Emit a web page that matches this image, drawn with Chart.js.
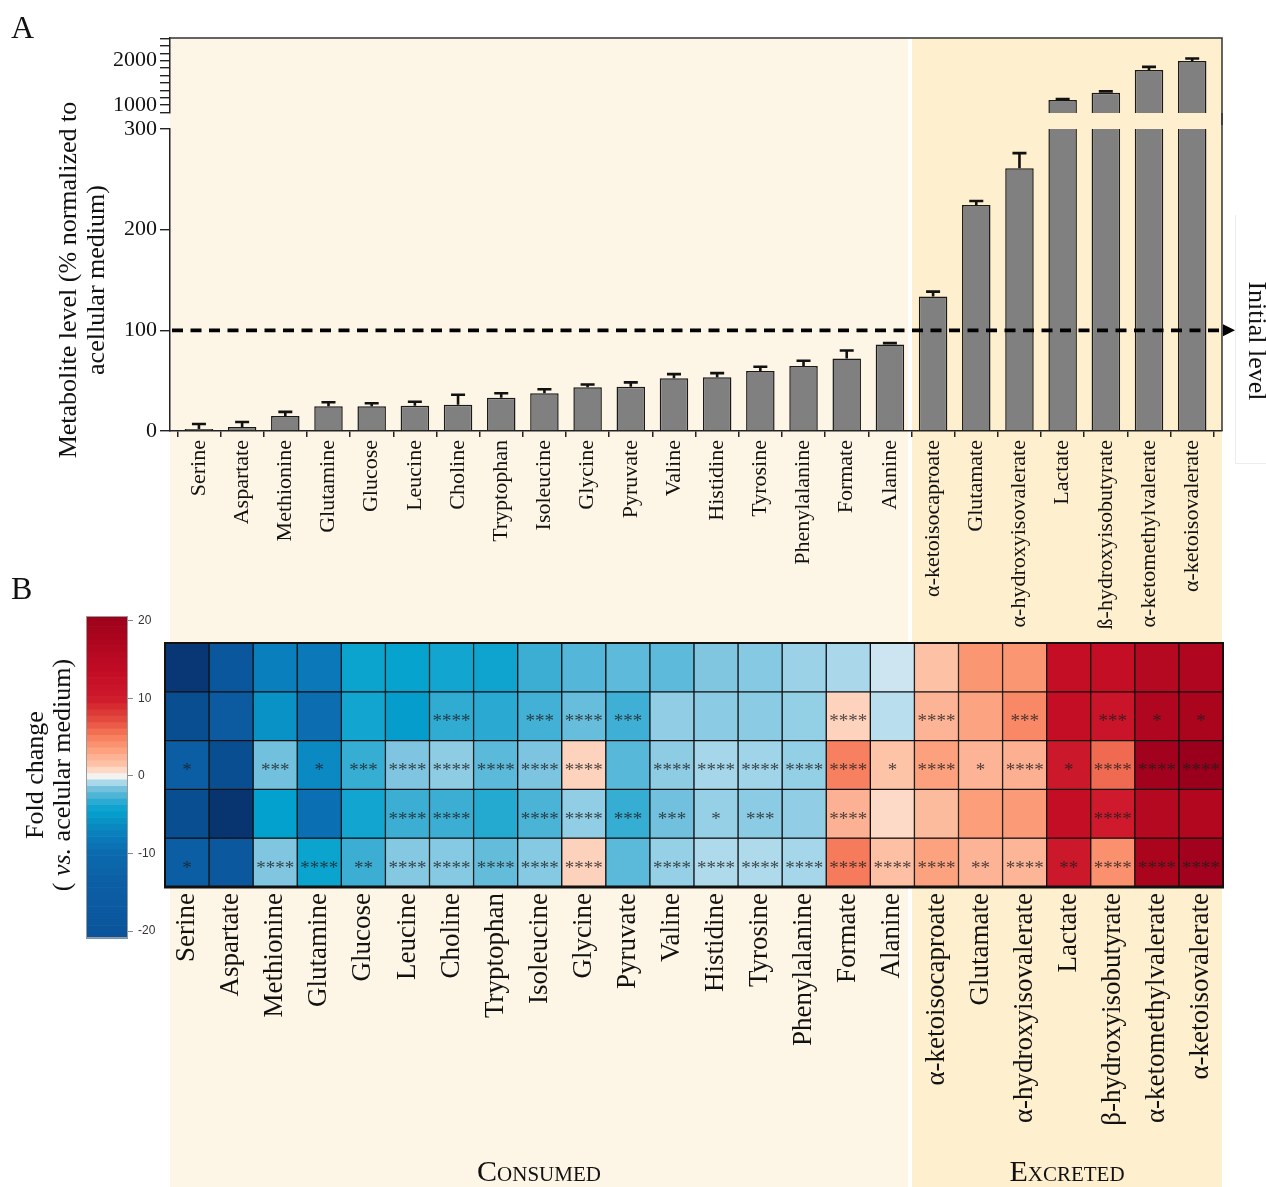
<!DOCTYPE html>
<html>
<head>
<meta charset="utf-8">
<title>Metabolite consumption and excretion</title>
<script src="https://cdn.jsdelivr.net/npm/chart.js@4.4.1/dist/chart.umd.min.js"></script>
<style>
  html, body { margin: 0; padding: 0; background: #fff; }
  #page { position: relative; width: 1266px; height: 1187px; overflow: hidden;
          font-family: 'Liberation Serif', 'Times New Roman', serif; color: #111; }
  .bg { position: absolute; }
  canvas { position: absolute; }
  .lbl { position: absolute; white-space: nowrap; }
</style>
</head>
<body>
<div id="page">
  <!-- consumed / excreted shading -->
  <div class="bg" style="left:170px;top:38px;width:738px;height:1149px;background:#FDF5E6"></div>
  <div class="bg" style="left:912px;top:38px;width:310px;height:1149px;background:#FEF0CE"></div>
  <div class="bg" style="left:1235px;top:215px;width:40px;height:248px;border-left:1px solid #ededed;border-bottom:1px solid #ededed"></div>

  <canvas id="barsLower" width="1266" height="655" style="left:0;top:0"></canvas>
  <canvas id="barsUpper" width="1266" height="125" style="left:0;top:0"></canvas>
  <canvas id="heatmap" width="1266" height="587" style="left:0;top:600px"></canvas>
  <canvas id="colorbar" width="120" height="350" style="left:60px;top:600px"></canvas>

  <div class="lbl" style="left:11px;top:11px;font-size:32px;line-height:32px">A</div>
  <div class="lbl" style="left:11px;top:572px;font-size:32px;line-height:32px">B</div>
  <div class="lbl" style="left:1157px;top:326px;width:200px;height:30px;line-height:30px;font-size:26px;text-align:center;transform:rotate(90deg)">Initial level</div>
  <div class="lbl" style="left:-102px;top:748px;width:300px;height:54px;line-height:27px;font-size:26px;text-align:center;transform:rotate(-90deg)">Fold change<br>( <i>vs.</i> acelular medium)</div>
  <div class="lbl" style="left:339px;top:1156px;width:400px;text-align:center;font-size:30px;line-height:30px;font-variant:small-caps">Consumed</div>
  <div class="lbl" style="left:867px;top:1156px;width:400px;text-align:center;font-size:30px;line-height:30px;font-variant:small-caps">Excreted</div>
</div>

<script>
// ---- data -------------------------------------------------------------
const metabolites = ['Serine', 'Aspartate', 'Methionine', 'Glutamine', 'Glucose', 'Leucine',
  'Choline', 'Tryptophan', 'Isoleucine', 'Glycine', 'Pyruvate', 'Valine', 'Histidine',
  'Tyrosine', 'Phenylalanine', 'Formate', 'Alanine', 'α-ketoisocaproate', 'Glutamate',
  'α-hydroxyisovalerate', 'Lactate', 'β-hydroxyisobutyrate', 'α-ketomethylvalerate',
  'α-ketoisovalerate'];

// metabolite level, % of acellular medium (mean and error)
const meanLevel = [2, 4, 15, 24.5, 24.5, 25, 26, 33, 37.5, 43.5, 44, 52.5, 53.5, 59.5, 64.5,
  72, 86, 133.5, 224.5, 261, 1113, 1278, 1790, 1993];
const errLevel = [5, 5, 4, 4, 3, 4, 10, 4.5, 4, 2.7, 4.3, 4, 4, 4.3, 5.3, 8, 1.3, 5, 4, 15,
  20, 30, 70, 55];
const initialLevel = 100;

const lowerTickStep = 100;
const upperLabelledTicks = [1000, 2000];
const upperMinorStep = 1000 / 6;

// fold change vs. acellular medium, one array per heatmap row
const foldRow1 = [-28, -19, -7.5, -8.2, -4.2, -4.4, -4.0, -4.1, -3.0, -2.3, -2.0, -2.0, -1.4,
  -1.3, -0.95, -0.8, -0.45, 1.6, 3.9, 3.9, 13, 13, 16, 17];
const foldRow2 = [-22, -16, -5.7, -9.5, -4.0, -4.9, -3.2, -3.3, -2.8, -1.85, -2.9, -1.1, -1.2,
  -1.2, -1.05, 1.0, -0.65, 2.4, 3.2, 4.6, 13, 11.5, 17, 18];
const foldRow3 = [-14, -22, -1.7, -6.5, -3.1, -1.45, -1.15, -2.1, -1.5, 1.0, -2.2, -1.15, -0.85,
  -0.9, -1.05, 5.0, 1.5, 3.4, 2.4, 2.6, 10.5, 6, 19.5, 21];
const foldRow4 = [-22, -29, -4.6, -9.2, -4.0, -3.0, -3.0, -3.4, -2.6, -1.1, -3.1, -1.7, -1.0,
  -1.2, -1.1, 2.5, 0.8, 2.0, 3.5, 3.7, 13, 10, 16, 16.5];
const foldRow5 = [-14, -18, -1.4, -4.2, -3.0, -1.35, -1.3, -1.9, -1.3, 1.05, -2.1, -1.0, -0.75,
  -0.75, -0.85, 5.2, 1.7, 3.3, 2.4, 2.3, 10.5, 4.2, 18, 19.5];

// significance marks per cell
const signifRow1 = ['', '', '', '', '', '', '', '', '', '', '', '', '', '', '', '', '', '', '', '', '', '', '', ''];
const signifRow2 = ['', '', '', '', '', '', '****', '', '***', '****', '***', '', '', '', '', '****', '', '****', '', '***', '', '***', '*', '*'];
const signifRow3 = ['*', '', '***', '*', '***', '****', '****', '****', '****', '****', '', '****', '****', '****', '****', '****', '*', '****', '*', '****', '*', '****', '****', '****'];
const signifRow4 = ['', '', '', '', '', '****', '****', '', '****', '****', '***', '***', '*', '***', '', '****', '', '', '', '', '', '****', '', ''];
const signifRow5 = ['*', '', '****', '****', '**', '****', '****', '****', '****', '****', '', '****', '****', '****', '****', '****', '****', '****', '**', '****', '**', '****', '****', '****'];

const colorbarTicks = [-20, -10, 0, 10, 20];

// ---- styling helpers ----------------------------------------------------
const SERIF = "'Liberation Serif', 'Times New Roman', serif";
const SANS = "'Liberation Sans', Arial, sans-serif";
Chart.defaults.font.family = SERIF;
Chart.defaults.color = '#111';
Chart.defaults.animation = false;
Chart.defaults.plugins.legend.display = false;
Chart.defaults.plugins.tooltip.enabled = false;

const foldRows = [foldRow1, foldRow2, foldRow3, foldRow4, foldRow5];
const signifRows = [signifRow1, signifRow2, signifRow3, signifRow4, signifRow5];
const barLabels = metabolites.map(s => s.replace('β', 'ß'));

// diverging blue-white-red palette for fold change
const foldColorStops = [
  [-30, '#08306B'], [-20, '#0B559C'], [-14, '#0C5EA4'], [-10, '#0C6AAE'], [-8, '#0A7ABA'],
  [-6, '#0A8EC4'], [-4.5, '#03A2CE'], [-3.5, '#1EA8D0'], [-3, '#3CAED4'], [-2, '#5EBADA'],
  [-1.5, '#7CC4E0'], [-1, '#96D0E6'], [-0.5, '#C8E4F0'], [0, '#F2F2F2'], [0.5, '#FEE2D4'],
  [1, '#FDD3BE'], [1.5, '#FDC4A8'], [2.5, '#FDB194'], [3.5, '#FC9E7A'], [4.5, '#F98A68'],
  [5.5, '#F57558'], [7, '#E65042'], [8.5, '#D93434'], [10, '#CE1A2C'], [13, '#C40E26'],
  [17, '#B0061F'], [21, '#9A001B']
];
function hexRgb(h) { return [1, 3, 5].map(k => parseInt(h.slice(k, k + 2), 16)); }
function foldColor(v) {
  const s = foldColorStops;
  if (v <= s[0][0]) return s[0][1];
  if (v >= s[s.length - 1][0]) return s[s.length - 1][1];
  for (let k = 1; k < s.length; k++) {
    if (v <= s[k][0]) {
      const t = (v - s[k - 1][0]) / (s[k][0] - s[k - 1][0]);
      const a = hexRgb(s[k - 1][1]), b = hexRgb(s[k][1]);
      const c = a.map((x, j) => Math.round(x + (b[j] - x) * t));
      return `rgb(${c[0]},${c[1]},${c[2]})`;
    }
  }
}

// keep the plot area exactly where the layout padding puts it
function noEdgePadding(s) {
  s.paddingTop = 0; s.paddingBottom = 0; s.paddingLeft = 0; s.paddingRight = 0;
}

// ---- panel A: bar chart with a broken value axis -----------------------------
const X_MIN = -0.67, X_MAX = 23.69;
const levelPoints = meanLevel.map((v, i) => ({ x: i, y: v }));

function categoryAxis(show) {
  return {
    type: 'linear', min: X_MIN, max: X_MAX, offset: false, display: show,
    afterBuildTicks: s => { s.ticks = metabolites.map((_, i) => ({ value: i })); },
    afterFit: s => { if (show) s.height = 224; noEdgePadding(s); },
    ticks: { autoSkip: false, minRotation: 90, maxRotation: 90, padding: 3,
             font: { size: 22 }, color: '#111', callback: v => barLabels[v] },
    grid: { drawOnChartArea: false, tickLength: 6, color: '#222', lineWidth: 1.5 },
    border: { color: '#222', width: 1.5 }
  };
}

function barDataset(clip) {
  return {
    data: levelPoints, backgroundColor: '#808080', borderColor: '#1a1a1a', borderWidth: 1.5,
    borderSkipped: 'start', barPercentage: 0.66, categoryPercentage: 1, clip: clip
  };
}

const errorBars = {
  id: 'errorBars',
  afterDatasetsDraw(chart) {
    const { ctx, chartArea } = chart;
    const y = chart.scales.y;
    const bars = chart.getDatasetMeta(0).data;
    ctx.save();
    ctx.beginPath();
    ctx.rect(chartArea.left, chartArea.top - 4, chartArea.width, chartArea.height + 4);
    ctx.clip();
    ctx.strokeStyle = '#111';
    ctx.lineWidth = 2.6;
    bars.forEach((bar, i) => {
      const v = meanLevel[i];
      if (v > y.max || v < y.min) return;
      const y0 = y.getPixelForValue(v);
      const y1 = y.getPixelForValue(v + errLevel[i]);
      ctx.beginPath();
      ctx.moveTo(bar.x, y0); ctx.lineTo(bar.x, y1);
      ctx.moveTo(bar.x - 7, y1); ctx.lineTo(bar.x + 7, y1);
      ctx.stroke();
    });
    ctx.restore();
  }
};

const upperFrame = {
  id: 'upperFrame',
  afterDraw(chart) {
    const { ctx, chartArea: a } = chart;
    ctx.save();
    ctx.strokeStyle = '#333';
    ctx.lineWidth = 1.5;
    ctx.beginPath();
    ctx.moveTo(a.left, a.top); ctx.lineTo(a.right, a.top);
    ctx.lineTo(a.right, chart.height);
    ctx.stroke();
    ctx.restore();
  }
};

const lowerFrame = {
  id: 'lowerFrame',
  afterDraw(chart) {
    const { ctx, chartArea: a } = chart;
    const y = chart.scales.y;
    ctx.save();
    ctx.strokeStyle = '#333';
    ctx.lineWidth = 1.5;
    ctx.beginPath();
    ctx.moveTo(a.right, a.top - 16); ctx.lineTo(a.right, a.bottom);
    ctx.stroke();
    // initial level reference line with arrow
    const yl = y.getPixelForValue(initialLevel);
    ctx.strokeStyle = '#000';
    ctx.lineWidth = 3.6;
    ctx.setLineDash([11, 7.5]);
    ctx.beginPath();
    ctx.moveTo(a.left + 2, yl); ctx.lineTo(a.right + 3, yl);
    ctx.stroke();
    ctx.setLineDash([]);
    ctx.fillStyle = '#000';
    ctx.beginPath();
    ctx.moveTo(a.right + 1, yl - 6); ctx.lineTo(a.right + 13, yl); ctx.lineTo(a.right + 1, yl + 6);
    ctx.closePath();
    ctx.fill();
    ctx.restore();
  }
};

const valueTicks = { font: { size: 22 }, color: '#111', padding: 3 };
const valueGrid = { drawOnChartArea: false, tickLength: 10, color: '#222', lineWidth: 1.4 };

new Chart(document.getElementById('barsUpper'), {
  type: 'bar',
  data: { datasets: [barDataset(0)] },
  options: {
    responsive: false,
    layout: { padding: { top: 38, right: 44, bottom: 12, left: 0 } },
    scales: {
      x: categoryAxis(false),
      y: {
        min: 820, max: 2510,
        afterBuildTicks: s => {
          const t = [];
          for (let v = upperLabelledTicks[0] - upperMinorStep; v <= s.max; v += upperMinorStep) {
            if (v >= s.min) t.push({ value: v });
          }
          s.ticks = t;
        },
        afterFit: s => { s.width = 170; noEdgePadding(s); },
        ticks: Object.assign({}, valueTicks, {
          autoSkip: false,
          callback: v => upperLabelledTicks.some(t => Math.abs(t - v) < 1) ? String(Math.round(v)) : ''
        }),
        grid: valueGrid,
        border: { color: '#222', width: 1.5 }
      }
    }
  },
  plugins: [errorBars, upperFrame]
});

new Chart(document.getElementById('barsLower'), {
  type: 'bar',
  data: { datasets: [barDataset(undefined)] },
  options: {
    responsive: false,
    layout: { padding: { top: 129, right: 44, bottom: 0, left: 0 } },
    scales: {
      x: categoryAxis(true),
      y: {
        min: 0, max: 300,
        afterFit: s => { s.width = 170; noEdgePadding(s); },
        ticks: Object.assign({}, valueTicks, { stepSize: lowerTickStep }),
        grid: valueGrid,
        border: { color: '#222', width: 1.5 },
        title: {
          display: true,
          text: ['Metabolite level (% normalized to', 'acellular medium)'],
          font: { size: 26, lineHeight: 1.05 }, color: '#111',
          padding: { top: 56, bottom: 0 }
        }
      }
    }
  },
  plugins: [errorBars, lowerFrame]
});

// ---- panel B: fold-change heatmap ----------------------------------------
const heatmapMarks = {
  id: 'heatmapMarks',
  afterDatasetsDraw(chart) {
    const { ctx, chartArea: a, scales: { x, y } } = chart;
    ctx.save();
    ctx.font = `19px ${SERIF}`;
    ctx.fillStyle = 'rgba(30,30,30,0.8)';
    ctx.textAlign = 'center';
    ctx.textBaseline = 'alphabetic';
    signifRows.forEach((row, r) => row.forEach((s, i) => {
      if (!s) return;
      const cx = x.getPixelForValue(i);
      const cy = (y.getPixelForValue(r) + y.getPixelForValue(r + 1)) / 2;
      ctx.fillText(s, cx, cy + 11);
    }));
    ctx.strokeStyle = '#111';
    ctx.lineWidth = 2;
    ctx.strokeRect(a.left, a.top, a.width, a.height);
    ctx.lineWidth = 3;
    ctx.beginPath();
    ctx.moveTo(a.left - 1, a.bottom); ctx.lineTo(a.right + 1, a.bottom);
    ctx.stroke();
    ctx.restore();
  }
};

new Chart(document.getElementById('heatmap'), {
  type: 'bar',
  data: {
    datasets: foldRows.map((row, r) => ({
      data: row.map((v, i) => ({ x: i, y: [r, r + 1] })),
      backgroundColor: row.map(foldColor),
      borderColor: '#111', borderWidth: 1, borderSkipped: false,
      barPercentage: 1, categoryPercentage: 1
    }))
  },
  options: {
    responsive: false,
    layout: { padding: { top: 43, right: 43, bottom: 0, left: 165 } },
    scales: {
      x: {
        type: 'linear', min: -0.5, max: 23.5, offset: false, stacked: true,
        afterBuildTicks: s => { s.ticks = metabolites.map((_, i) => ({ value: i })); },
        afterFit: s => { s.height = 300; noEdgePadding(s); },
        ticks: { autoSkip: false, minRotation: 90, maxRotation: 90, padding: 6,
                 font: { size: 27 }, color: '#111', callback: v => metabolites[v] },
        grid: { display: false, drawTicks: false },
        border: { display: false }
      },
      y: { display: false, min: 0, max: 5, reverse: true, stacked: false }
    }
  },
  plugins: [heatmapMarks]
});

// ---- colour key ------------------------------------------------------------
const colorbarBands = {
  id: 'colorbarBands',
  beforeDatasetsDraw(chart) {
    const { ctx, chartArea: a } = chart;
    const y = chart.scales.y;
    const step = 0.82;
    ctx.save();
    for (let v = y.min; v < y.max; v += step) {
      const top = y.getPixelForValue(Math.min(v + step, y.max));
      const bot = y.getPixelForValue(v);
      ctx.fillStyle = foldColor(v + step / 2);
      ctx.fillRect(a.left, top, a.width, bot - top + 0.6);
    }
    ctx.strokeStyle = '#9a9a9a';
    ctx.lineWidth = 1;
    ctx.strokeRect(a.left + 0.5, a.top + 0.5, a.width - 1, a.height - 1);
    ctx.restore();
  }
};

new Chart(document.getElementById('colorbar'), {
  type: 'bar',
  data: { labels: [''], datasets: [] },
  options: {
    responsive: false,
    layout: { padding: { top: 16, right: 0, bottom: 12, left: 26 } },
    scales: {
      x: { display: false },
      y: {
        position: 'right', min: -20.9, max: 20.6,
        afterBuildTicks: s => { s.ticks = colorbarTicks.map(v => ({ value: v })); },
        afterFit: s => { s.width = 52; noEdgePadding(s); },
        ticks: { font: { family: SANS, size: 12 }, color: '#333', padding: 5 },
        grid: { drawOnChartArea: false, tickLength: 5, color: '#888' },
        border: { display: false }
      }
    }
  },
  plugins: [colorbarBands]
});
</script>
</body>
</html>
